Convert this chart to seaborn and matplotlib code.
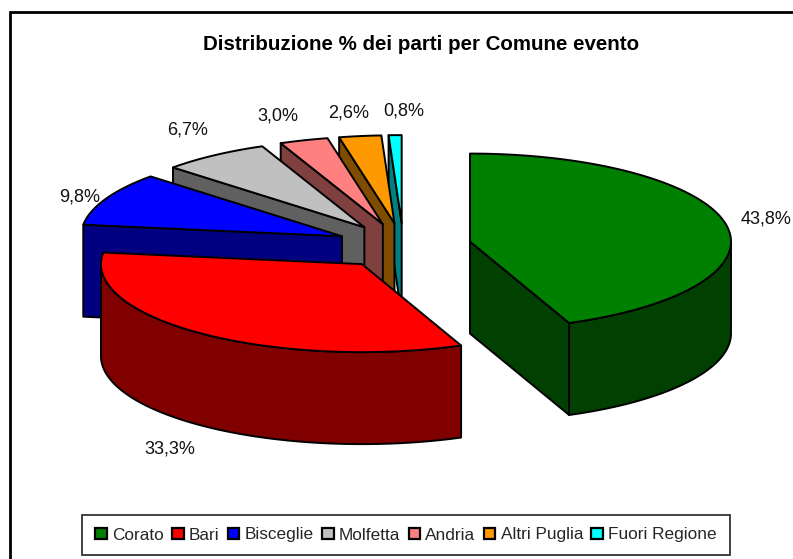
import numpy as np
import seaborn as sns
import matplotlib
matplotlib.use("Agg")
import matplotlib.pyplot as plt
from matplotlib.patches import Polygon, Rectangle

# ---- data ----
categories = ["Corato", "Bari", "Bisceglie", "Molfetta", "Andria", "Altri Puglia", "Fuori Regione"]
values = [43.8, 33.3, 9.8, 6.7, 3.0, 2.6, 0.8]
value_labels = ["43,8%", "33,3%", "9,8%", "6,7%", "3,0%", "2,6%", "0,8%"]
top_colors = ["#008000", "#FF0000", "#0000FF", "#C0C0C0", "#FF8080", "#FF9900", "#00FFFF"]
side_colors = ["#004000", "#800000", "#000080", "#606060", "#804040", "#804D00", "#008080"]
title = "Distribuzione % dei parti per Comune evento"

# ---- pie projection (pixels) ----
CX, CY = 403.4, 246.0
RX, RY = 261.0, 88.0
DEPTH = 92.0
EXPLODE = 0.26
# label offset from the default radial position (pixels)
label_nudge = [(-11, -2), (-1, 9), (21, 6), (3, -11), (-10, -8), (-5, -6), (10, -7)]

sns.set_theme(style="white")
plt.rcParams["font.family"] = ["Liberation Sans", "DejaVu Sans"]

W, H = 793, 559
fig = plt.figure(figsize=(W / 100, H / 100), dpi=100, facecolor="white")
ax = fig.add_axes([0, 0, 1, 1])
ax.set_xlim(0, W)
ax.set_ylim(H, 0)
ax.axis("off")

# outer chart frame
ax.add_patch(Rectangle((10, 12), W + 20, H + 20, fc="white", ec="black", lw=2, zorder=0))
ax.text(421.5, 45, title, ha="center", va="center", fontsize=14.75, fontweight="bold", color="black")

fractions = np.array(values) / np.sum(values)
bounds = np.concatenate([[0], np.cumsum(fractions)]) * 2 * np.pi


def point(center, theta):
    return center[0] + RX * np.sin(theta), center[1] - RY * np.cos(theta)


centers, mids = [], []
for i in range(len(values)):
    mid = (bounds[i] + bounds[i + 1]) / 2
    mids.append(mid)
    centers.append((CX + EXPLODE * RX * np.sin(mid), CY - EXPLODE * RY * np.cos(mid)))

# painter's order: back slices first
order = [6, 5, 4, 3, 2, 1, 0]
z = 2
for i in order:
    t0, t1 = bounds[i], bounds[i + 1]
    c = centers[i]
    kw = dict(fc=side_colors[i], ec="black", lw=1.4, joinstyle="round")
    walls = []
    if np.sin(t0) < -1e-9:
        p = point(c, t0)
        walls.append([c, p, (p[0], p[1] + DEPTH), (c[0], c[1] + DEPTH)])
    if np.sin(t1) > 1e-9:
        p = point(c, t1)
        walls.append([c, p, (p[0], p[1] + DEPTH), (c[0], c[1] + DEPTH)])
    a0, a1 = max(t0, np.pi / 2), min(t1, 3 * np.pi / 2)
    if a1 > a0:
        th = np.linspace(a0, a1, 120)
        top = [point(c, t) for t in th]
        walls.append(top + [(x, y + DEPTH) for x, y in top[::-1]])
    for w in walls:
        ax.add_patch(Polygon(w, closed=True, zorder=z, **kw))
        z += 1
    th = np.linspace(t0, t1, 160)
    ax.add_patch(Polygon([c] + [point(c, t) for t in th], closed=True, fc=top_colors[i],
                         ec="black", lw=1.4, joinstyle="round", zorder=z))
    z += 1

# value labels
for i, lab in enumerate(value_labels):
    c = centers[i]
    x, y = point(c, mids[i])
    dx, dy = x - c[0], y - c[1]
    extra = DEPTH if np.cos(mids[i]) < 0 else 0
    lx = c[0] + 1.2 * dx + label_nudge[i][0]
    ly = c[1] + 1.2 * dy + extra + label_nudge[i][1]
    ax.text(lx, ly, lab, ha="center", va="center", fontsize=13, color="#111111", zorder=50)

# legend
handles = [Rectangle((0, 0), 1, 1, fc=top_colors[i], ec="black", lw=1.6) for i in range(len(categories))]
leg = ax.legend(handles, categories, ncol=len(categories), loc="center",
                bbox_to_anchor=(406 / W, 1 - 535 / H), frameon=True, fontsize=12.4,
                fancybox=False, edgecolor="#333333", framealpha=1,
                handlelength=0.68, handleheight=0.68, handletextpad=0.3, columnspacing=0.48,
                borderpad=0.75, borderaxespad=0)
leg.get_frame().set_linewidth(1.3)
leg.set_zorder(60)

fig.savefig("out.png", dpi=100, facecolor="white")
